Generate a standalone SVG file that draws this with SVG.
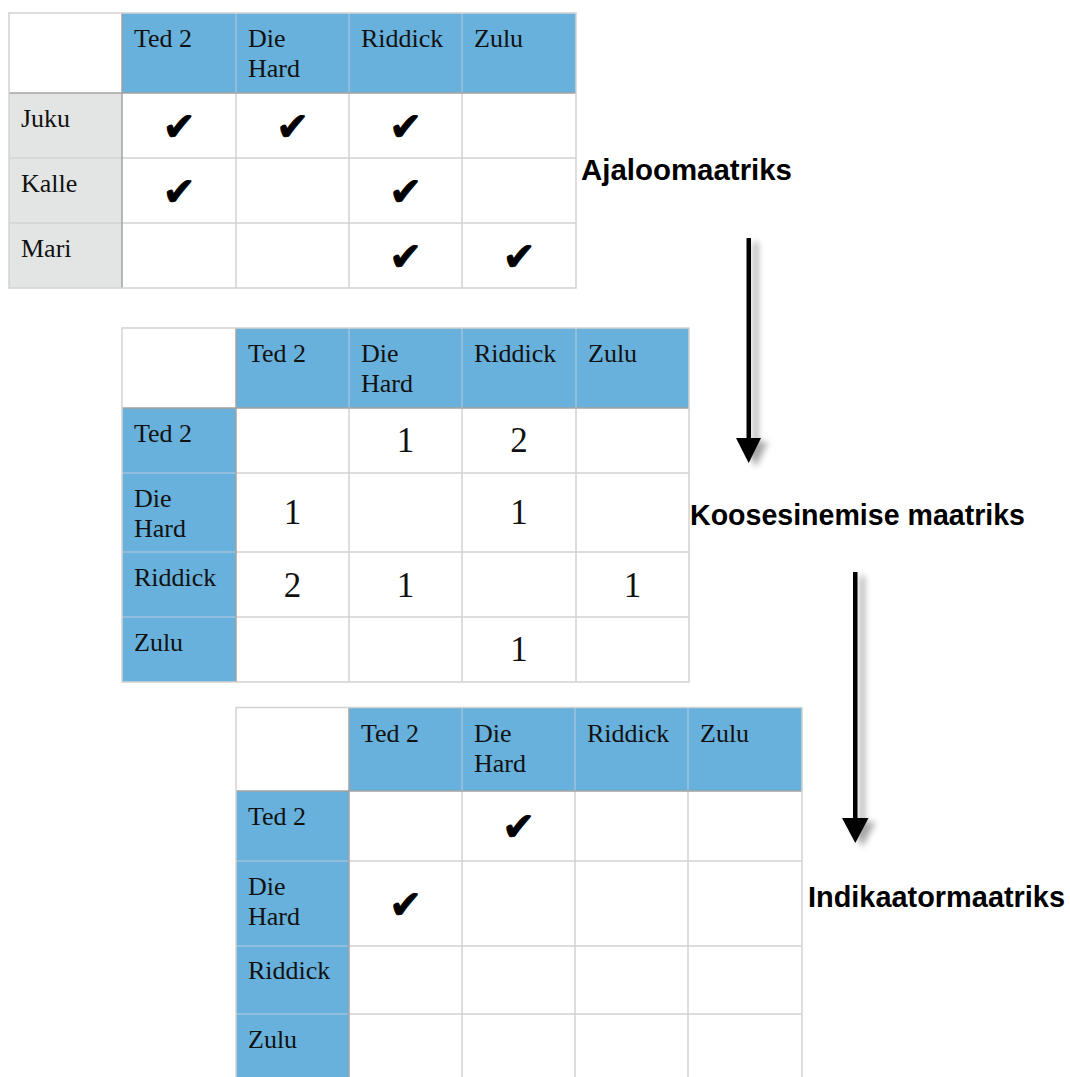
<svg xmlns="http://www.w3.org/2000/svg" width="1070" height="1077" viewBox="0 0 1070 1077">
<defs>
<style>
.t{font-family:"Liberation Serif","Times New Roman",serif;font-size:26px;fill:#111}
.n{font-family:"Liberation Serif","Times New Roman",serif;font-size:35px;fill:#111;text-anchor:middle}
.ck{font-family:"DejaVu Sans",sans-serif;font-size:39px;fill:#000;stroke:#000;stroke-width:1;text-anchor:middle}
.lb{font-family:"Liberation Sans",Arial,sans-serif;font-size:29px;font-weight:bold;fill:#000}
.hdr{fill:#67b1dc}
.gry{fill:#e3e5e5}
.wht{fill:#fff}
.g{stroke:#d2d2d2;stroke-width:1.5;fill:none}
.gd{stroke:#a3a3a3;stroke-width:1.5;fill:none}
.gb{stroke:#9ec3da;stroke-width:1.5;fill:none}
</style>
<filter id="sh" x="-100%" y="-20%" width="400%" height="140%">
<feDropShadow dx="7" dy="4" stdDeviation="3" flood-color="#000" flood-opacity="0.35"/>
</filter>
</defs>
<rect width="1070" height="1077" fill="#fff"/>

<g id="table1">
<rect class="wht" x="9" y="13" width="567" height="275"/>
<rect class="hdr" x="122" y="13" width="454" height="80"/>
<rect class="gry" x="9" y="93" width="113" height="195"/>
<path class="gb" d="M236 13V93M349 13V93M462 13V93"/>
<path class="g" d="M236 93V288M349 93V288M462 93V288M122 158H576M122 223H576M9 158H122M9 223H122"/>
<path class="gd" d="M9 93H576M122 13V288"/>
<rect class="g" x="9" y="13" width="567" height="275"/>
<text class="t" x="134" y="47">Ted 2</text>
<text class="t" x="248" y="47">Die</text>
<text class="t" x="248" y="77">Hard</text>
<text class="t" x="361" y="47">Riddick</text>
<text class="t" x="474" y="47">Zulu</text>
<text class="t" x="21" y="127">Juku</text>
<text class="t" x="21" y="192">Kalle</text>
<text class="t" x="21" y="257">Mari</text>
<text class="ck" x="179" y="139.5">✔</text>
<text class="ck" x="292.5" y="139.5">✔</text>
<text class="ck" x="405.5" y="139.5">✔</text>
<text class="ck" x="179" y="204.5">✔</text>
<text class="ck" x="405.5" y="204.5">✔</text>
<text class="ck" x="405.5" y="269.5">✔</text>
<text class="ck" x="519" y="269.5">✔</text>
</g>

<g id="table2">
<rect class="wht" x="122" y="328" width="567" height="354"/>
<rect class="hdr" x="236" y="328" width="453" height="80"/>
<rect class="hdr" x="122" y="408" width="114" height="274"/>
<path class="gb" d="M349 328V408M462 328V408M576 328V408M122 473H236M122 552H236M122 617H236"/>
<path class="g" d="M349 408V682M462 408V682M576 408V682M236 473H689M236 552H689M236 617H689"/>
<path class="gd" d="M122 408H689M236 328V682"/>
<rect class="g" x="122" y="328" width="567" height="354"/>
<text class="t" x="248" y="362">Ted 2</text>
<text class="t" x="361" y="362">Die</text>
<text class="t" x="361" y="392">Hard</text>
<text class="t" x="474" y="362">Riddick</text>
<text class="t" x="588" y="362">Zulu</text>
<text class="t" x="134" y="442">Ted 2</text>
<text class="t" x="134" y="507">Die</text>
<text class="t" x="134" y="537">Hard</text>
<text class="t" x="134" y="586">Riddick</text>
<text class="t" x="134" y="651">Zulu</text>
<text class="n" x="405.5" y="452">1</text>
<text class="n" x="519" y="452">2</text>
<text class="n" x="292.5" y="524">1</text>
<text class="n" x="519" y="524">1</text>
<text class="n" x="292.5" y="596.5">2</text>
<text class="n" x="405.5" y="596.5">1</text>
<text class="n" x="632.5" y="596.5">1</text>
<text class="n" x="519" y="661">1</text>
</g>

<g id="table3">
<rect class="wht" x="236" y="707.5" width="566" height="380"/>
<rect class="hdr" x="349" y="707.5" width="453" height="83.5"/>
<rect class="hdr" x="236" y="791" width="113" height="296"/>
<path class="gb" d="M462 707.5V791M575 707.5V791M688 707.5V791M236 861H349M236 946H349M236 1014H349"/>
<path class="g" d="M462 791V1087M575 791V1087M688 791V1087M349 861H802M349 946H802M349 1014H802"/>
<path class="gd" d="M236 791H802M349 707.5V1087"/>
<rect class="g" x="236" y="707.5" width="566" height="380"/>
<text class="t" x="361" y="741.5">Ted 2</text>
<text class="t" x="474" y="741.5">Die</text>
<text class="t" x="474" y="771.5">Hard</text>
<text class="t" x="587" y="741.5">Riddick</text>
<text class="t" x="700" y="741.5">Zulu</text>
<text class="t" x="248" y="825">Ted 2</text>
<text class="t" x="248" y="895">Die</text>
<text class="t" x="248" y="925">Hard</text>
<text class="t" x="248" y="979">Riddick</text>
<text class="t" x="248" y="1048">Zulu</text>
<text class="ck" x="518.5" y="840">✔</text>
<text class="ck" x="405.5" y="917.5">✔</text>
</g>

<g id="label1"><text class="lb" x="581" y="180" textLength="211" lengthAdjust="spacingAndGlyphs">Ajaloomaatriks</text></g>
<g id="label2"><text class="lb" x="690" y="525" textLength="335" lengthAdjust="spacingAndGlyphs">Koosesinemise maatriks</text></g>
<g id="label3"><text class="lb" x="808" y="906.5" textLength="257" lengthAdjust="spacingAndGlyphs">Indikaatormaatriks</text></g>

<g id="connectors" filter="url(#sh)">
<g>
<rect x="746.5" y="238" width="4.5" height="202" fill="#000"/>
<polygon points="736,438 761,438 748.7,463" fill="#000"/>
</g>
<g>
<rect x="853" y="572" width="4.5" height="248" fill="#000"/>
<polygon points="842,818 868.5,818 855.3,843" fill="#000"/>
</g>
</g>
</svg>
